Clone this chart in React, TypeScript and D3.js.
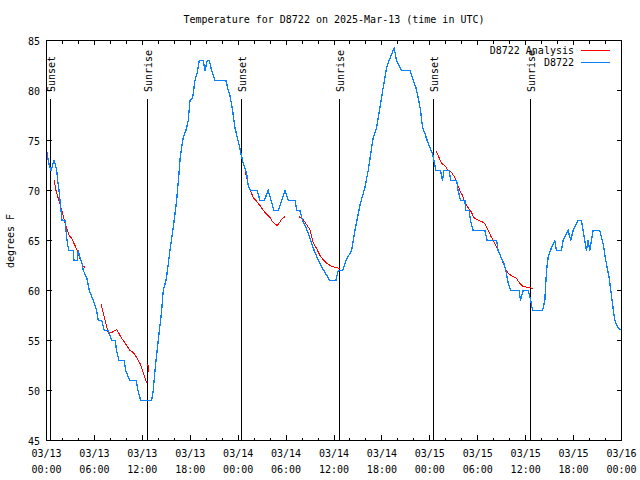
import React from "react";
import * as d3 from "d3";

const TITLE = "Temperature for D8722 on 2025-Mar-13 (time in UTC)";
const Y_LABEL = "degrees F";
const SERIES_NAMES = ["D8722 Analysis", "D8722"];
const SERIES_COLORS = ["#ff0000", "#0a80ff"];

// hours since 03/13 00:00 UTC
const tickHours = [0, 6, 12, 18, 24, 30, 36, 42, 48, 54, 60, 66, 72];
const tickDates = ["03/13", "03/13", "03/13", "03/13", "03/14", "03/14", "03/14", "03/14", "03/15", "03/15", "03/15", "03/15", "03/16"];
const tickTimes = ["00:00", "06:00", "12:00", "18:00", "00:00", "06:00", "12:00", "18:00", "00:00", "06:00", "12:00", "18:00", "00:00"];
const yTicks = [45, 50, 55, 60, 65, 70, 75, 80, 85];

const sunHours = [0.48, 12.62, 24.38, 36.65, 48.42, 60.56];
const sunLabels = ["Sunset", "Sunrise", "Sunset", "Sunrise", "Sunset", "Sunrise"];

// Observed (D8722)
const obsHours = [
  0, 0.125, 0.25, 0.375, 0.563, 0.751, 0.939, 1.127, 1.277, 1.402, 1.565, 1.69, 1.815, 1.94, 2.315, 2.441, 2.566, 2.779,
  3.355, 3.442, 3.855, 3.98, 4.193, 4.444, 4.606, 5.032, 5.357, 5.858, 6.284, 6.484, 6.909, 7.235, 7.736, 8.161, 8.612,
  8.762, 9.075, 9.738, 9.913, 10.414, 11.24, 11.453, 11.791, 13.168, 13.368, 13.581, 13.994, 14.42, 14.62, 14.958,
  15.146, 15.459, 15.872, 16.297, 16.585, 16.748, 16.923, 17.124, 17.461, 17.749, 17.962, 18.3, 18.588, 18.876, 19.126,
  19.627, 19.84, 20.128, 20.378, 20.679, 21.092, 22.469, 22.757, 22.969, 23.307, 23.595, 23.883, 24.133, 24.346, 24.634,
  25.059, 25.26, 25.56, 26.386, 26.724, 27.263, 27.763, 28.477, 29.015, 29.441, 29.854, 30.267, 31.143, 31.318, 31.731,
  32.069, 32.645, 33.07, 33.609, 34.235, 34.86, 35.486, 36.237, 36.525, 37.076, 37.489, 38.203, 38.616, 39.242, 39.868,
  40.281, 40.907, 41.332, 41.745, 42.158, 42.584, 42.997, 43.41, 43.535, 43.835, 44.461, 45.5, 45.838, 46.251, 46.539,
  46.839, 47.09, 47.378, 47.666, 48.004, 48.341, 48.754, 49.343, 49.593, 49.756, 50.419, 50.632, 51.346, 51.546, 51.846,
  52.385, 52.51, 52.923, 53.098, 53.424, 54.888, 55.176, 56.353, 56.553, 56.979, 57.266, 57.517, 57.805, 58.143, 59.182,
  59.357, 59.682, 60.308, 60.646, 60.859, 62.11, 62.398, 62.611, 62.811, 63.237, 63.65, 63.862, 64.488, 64.689, 65.314,
  65.652, 65.94, 66.566, 66.992, 67.405, 67.618, 67.818, 68.031, 68.444, 69.282, 69.695, 70.033, 70.446, 70.872, 71.16,
  71.573, 72.0,
];
const obsTemps = [
  74, 73.5, 72.8, 72.5, 72, 72.5, 73, 72.5, 72, 71, 70, 69, 68, 67, 67, 66, 65, 64,
  64, 63, 63, 64, 63.3, 62.7, 62, 61.3, 60, 59, 58, 57, 57, 56, 56, 55, 55,
  54, 53, 53, 52, 51, 51, 50, 49, 49, 50, 52, 55, 58, 60, 61,
  62, 64, 66.3, 69, 71.7, 73.3, 74.3, 75.3, 76, 77, 79, 79.3, 81, 81.8, 83,
  83, 82, 83, 83, 82, 81, 81, 80, 79.5, 78, 76.3, 75.3, 74.5, 73.7, 72.7,
  71.7, 70.5, 70, 70, 69, 69, 70, 68, 68, 69, 70, 69, 69, 68, 68,
  67, 66, 65, 63.8, 62.7, 61.8, 61, 61, 62, 62, 63, 64, 66, 68.5, 70.3,
  72, 75.3, 76.3, 78.3, 80.3, 82.3, 83.2, 84, 84.2, 83, 82, 82, 81.2, 80.3, 79.3,
  78, 76.3, 75.7, 75, 74.3, 73.7, 72, 72, 71, 72, 72, 71, 71, 70, 69,
  69, 68, 68, 67, 66, 66, 65, 65, 64, 63.2, 62.7, 62, 60.8, 60, 60,
  59, 60, 60, 59, 58, 58, 59, 62, 63.3, 64.3, 65, 64, 64, 65, 66,
  65, 66, 67, 67, 65, 64, 65, 64, 66, 66, 64.7, 63, 61.3, 58.7, 57,
  56.3, 56,
];

// Analysis (D8722 Analysis); null marks a gap
const anaHours = [
  0.976, 1.19, 1.477, 1.777, 2.028, 2.315, 2.604, 2.854, 3.154, 3.567, 3.855, 4.193, 4.531, 4.819, null,
  6.822, 7.11, 7.448, 7.736, 8.161, 8.787, 9.075, 9.413, 9.701, 10.039, 10.452, 10.865, 11.29, 11.704, 12.042, 12.329, 12.542, null,
  12.7, 12.75, null,
  24.847, 25.135, 25.347, 25.685, 25.886, 26.224, 26.724, 27.35, 27.976, 28.389, 28.89, 29.441, 29.854, null,
  31.606, 32.144, 32.645, 32.983, 33.396, 33.822, 34.235, 34.735, 35.148, 35.699, 36.237, 36.738, null,
  48.754, 49.042, 49.468, 49.881, 50.294, 50.72, 51.133, 51.421, 51.759, 52.097, 52.385, 52.673, 53.098, 53.511, 53.849,
  54.475, 54.888, 55.301, 55.727, 56.14, 56.553, 56.979, 57.391, 57.805, 58.43, 58.856, 59.269, 59.682, 60.308, 60.934,
];
const anaTemps = [
  71, 70, 69.2, 68.4, 67.7, 66.8, 66, 65.5, 65.2, 64.5, 64, 63.2, 62.5, 62.3, null,
  58.7, 57.7, 56.7, 55.7, 55.8, 56.1, 55.7, 55.2, 54.9, 54.5, 54, 53.8, 53.3, 52.7, 52, 51.3, 50.8, null,
  52.7, 51.8, null,
  72.1, 71, 70.3, 69.7, 69.3, 69, 68.5, 67.8, 67.3, 66.8, 66.5, 67.1, 67.4, null,
  67.4, 67.1, 66.5, 66.1, 64.8, 64.2, 63.5, 63, 62.7, 62.4, 62.3, 62.2, null,
  74, 73.5, 72.7, 72.5, 72, 71.8, 71.3, 70.7, 70, 69.5, 68.8, 68.4, 68, 67.3, 67.1,
  66.9, 66.7, 66, 65.3, 64.7, 64.1, 63.2, 62.3, 61.7, 61.4, 61.2, 60.7, 60.4, 60.3, 60.2,
];

const W = 640;
const H = 480;
const FONT = "'DejaVu Sans Mono', 'Liberation Mono', monospace";

export default function App() {
  const x = d3.scaleLinear().domain([0, 72]).range([46.5, 621.5]);
  const y = d3.scaleLinear().domain([45, 85]).range([440.5, 40.5]);
  const left = x(0), right = x(72), top = y(85), bottom = y(45);

  const minorHours = d3.range(0, 73, 2).filter((h) => h % 6 !== 0);

  type P = [number | null, number | null];
  const line = d3
    .line<P>()
    .defined((d) => d[0] !== null && d[1] !== null)
    .x((d) => x(d[0] as number))
    .y((d) => y(d[1] as number));

  const obsPts: P[] = obsHours.map((h, i) => [h, obsTemps[i]]);
  const anaPts: P[] = anaHours.map((h, i) => [h, anaTemps[i]]);

  const legendY = [50, 62];

  return (
    <svg
      width={W}
      height={H}
      style={{ position: "absolute", left: 0, top: 0, background: "#fff" }}
      fontFamily={FONT}
      fontSize={10}
    >
      <rect x={0} y={0} width={W} height={H} fill="#fff" />
      <text x={334} y={23} textAnchor="middle" fill="#000">{TITLE}</text>

      {/* sun lines */}
      {sunHours.map((h, i) => {
        const sx = Math.round(x(h)) + 0.5;
        return (
          <g key={"sun" + i}>
            <line x1={sx} x2={sx} y1={99} y2={bottom} stroke="#000" strokeWidth={1} shapeRendering="crispEdges" />
            <text transform={`translate(${sx + 4.5},92) rotate(-90)`} textAnchor="start" fill="#000">
              {sunLabels[i]}
            </text>
          </g>
        );
      })}

      {/* data */}
      <path d={line(anaPts) || ""} fill="none" stroke={SERIES_COLORS[0]} strokeWidth={1} shapeRendering="crispEdges" />
      <path d={line(obsPts) || ""} fill="none" stroke={SERIES_COLORS[1]} strokeWidth={1.3} shapeRendering="crispEdges" />

      {/* frame */}
      <rect x={left} y={top} width={right - left} height={bottom - top} fill="none" stroke="#000" strokeWidth={1} shapeRendering="crispEdges" />

      {/* y ticks */}
      {yTicks.map((v) => (
        <g key={"y" + v}>
          <line x1={left} x2={left + 5} y1={y(v)} y2={y(v)} stroke="#000" shapeRendering="crispEdges" />
          <line x1={right} x2={right - 5} y1={y(v)} y2={y(v)} stroke="#000" shapeRendering="crispEdges" />
          <text x={40} y={y(v) + 4} textAnchor="end" fill="#000">{v}</text>
        </g>
      ))}

      {/* x ticks */}
      {tickHours.map((h, i) => (
        <g key={"x" + h}>
          <line x1={x(h)} x2={x(h)} y1={bottom} y2={bottom - 6} stroke="#000" shapeRendering="crispEdges" />
          <line x1={x(h)} x2={x(h)} y1={top} y2={top + 4} stroke="#000" shapeRendering="crispEdges" />
          <text x={x(h)} y={457} textAnchor="middle" fill="#000">{tickDates[i]}</text>
          <text x={x(h)} y={473} textAnchor="middle" fill="#000">{tickTimes[i]}</text>
        </g>
      ))}
      {minorHours.map((h) => (
        <g key={"m" + h}>
          <line x1={x(h)} x2={x(h)} y1={bottom} y2={bottom - 3} stroke="#000" shapeRendering="crispEdges" />
          <line x1={x(h)} x2={x(h)} y1={top} y2={top + 3} stroke="#000" shapeRendering="crispEdges" />
        </g>
      ))}

      {/* y label */}
      <text transform="translate(14,241) rotate(-90)" textAnchor="middle" fill="#000">{Y_LABEL}</text>

      {/* legend */}
      {SERIES_NAMES.map((n, i) => (
        <g key={"lg" + i}>
          <text x={574} y={legendY[i] + 4} textAnchor="end" fill="#000">{n}</text>
          <line x1={581} x2={610} y1={legendY[i] + 0.5} y2={legendY[i] + 0.5} stroke={SERIES_COLORS[i]} strokeWidth={1} shapeRendering="crispEdges" />
        </g>
      ))}
    </svg>
  );
}
